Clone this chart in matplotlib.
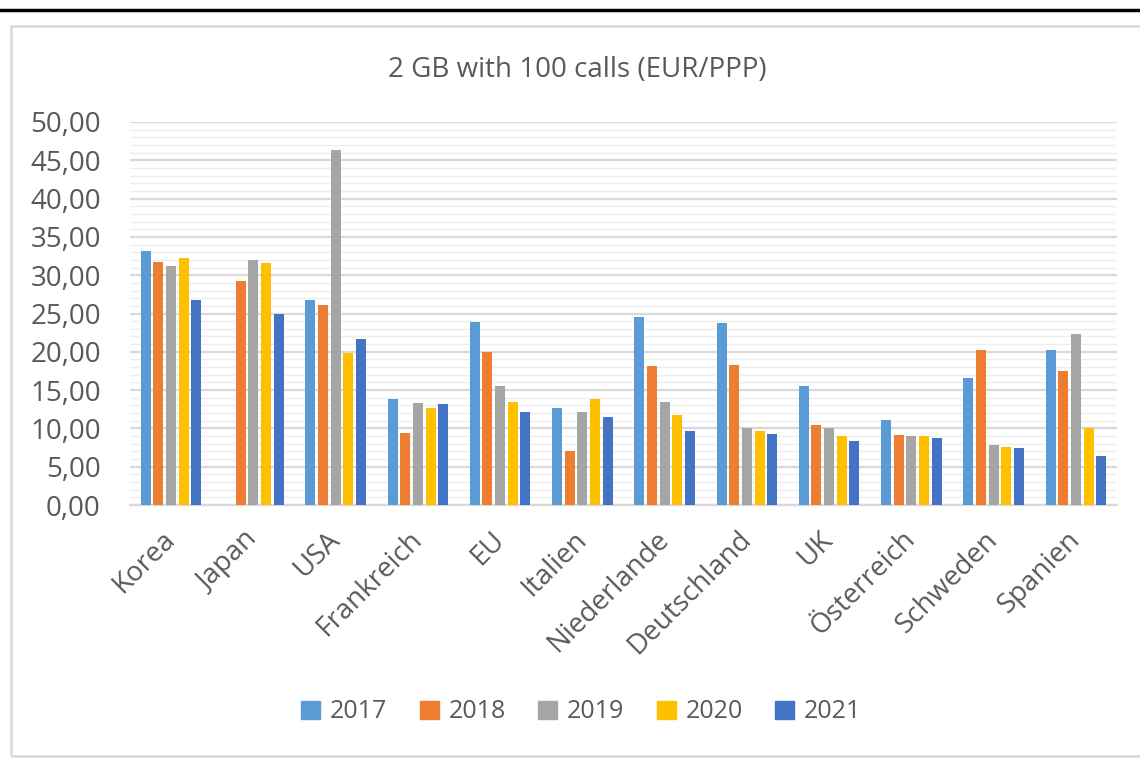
import matplotlib
matplotlib.use("Agg")
import matplotlib.pyplot as plt
import numpy as np
from matplotlib.ticker import MultipleLocator, FuncFormatter
from matplotlib.patches import Rectangle
from matplotlib.lines import Line2D

plt.rcParams['font.family'] = ['Open Sans', 'DejaVu Sans']

countries = ["Korea", "Japan", "USA", "Frankreich", "EU", "Italien", "Niederlande",
             "Deutschland", "UK", "Österreich", "Schweden", "Spanien"]
years = ["2017", "2018", "2019", "2020", "2021"]

v2017 = [33.2, 0.0, 26.7, 13.9, 23.9, 12.7, 24.6, 23.8, 15.5, 11.1, 16.6, 20.2]
v2018 = [31.7, 29.2, 26.1, 9.4, 20.0, 7.1, 18.1, 18.25, 10.5, 9.2, 20.2, 17.55]
v2019 = [31.2, 32.0, 46.4, 13.3, 15.6, 12.2, 13.5, 10.0, 10.1, 9.0, 7.8, 22.35]
v2020 = [32.2, 31.6, 19.8, 12.6, 13.4, 13.8, 11.7, 9.6, 9.0, 9.0, 7.6, 10.0]
v2021 = [26.7, 25.0, 21.7, 13.25, 12.1, 11.55, 9.7, 9.25, 8.4, 8.8, 7.5, 6.45]
series = [v2017, v2018, v2019, v2020, v2021]
colors = ["#5B9BD5", "#ED7D31", "#A5A5A5", "#FFC000", "#4472C4"]

title = "2 GB with 100 calls (EUR/PPP)"
text_color = "#595959"

W, H = 1140, 760
fig = plt.figure(figsize=(W / 100, H / 100), dpi=100)

# top black rule and chart border
fig.add_artist(Line2D([0, 1], [1 - 10 / H, 1 - 10 / H], color="black", lw=2.5,
                      transform=fig.transFigure))
fig.add_artist(Rectangle((11 / W, 1 - 756 / H), 1.2, (756 - 26) / H,
                         transform=fig.transFigure, fill=False,
                         edgecolor="#D9D9D9", lw=1.8))

left, right, top, bottom = 130, 1117, 122, 505
ax = fig.add_axes([left / W, 1 - bottom / H, (right - left) / W, (bottom - top) / H])

x = np.arange(len(countries))
pitch = 0.154
width = 0.122
for j, (vals, c, yr) in enumerate(zip(series, colors, years)):
    ax.bar(x + (j - 2) * pitch, vals, width=width, color=c, label=yr, zorder=3)

ax.set_xlim(-0.5, len(countries) - 0.5)
ax.set_ylim(0, 50)
ax.yaxis.set_major_locator(MultipleLocator(5))
ax.yaxis.set_minor_locator(MultipleLocator(1))
ax.yaxis.set_major_formatter(FuncFormatter(lambda v, p: f"{v:.2f}".replace(".", ",")))
ax.grid(axis="y", which="major", color="#D9D9D9", lw=1.6, zorder=0)
ax.grid(axis="y", which="minor", color="#EEEEEE", lw=1.0, zorder=0)
for s in ["top", "right", "left"]:
    ax.spines[s].set_visible(False)
ax.spines["bottom"].set_color("#D9D9D9")
ax.spines["bottom"].set_linewidth(1.6)
ax.tick_params(axis="y", which="both", length=0, labelsize=20, labelcolor=text_color, pad=21)
ax.tick_params(axis="x", length=0, labelsize=20, labelcolor=text_color, pad=22)
ax.set_xticks(x)
ax.set_xticklabels(countries, rotation=45, ha="right", va="center", rotation_mode="anchor")

fig.text(0.506, 1 - 70 / H, title, ha="center", va="center", fontsize=20, color=text_color)

handles = [Rectangle((0, 0), 1, 1, color=c) for c in colors]
leg = fig.legend(handles, years, loc="center", bbox_to_anchor=(0.51, 1 - 712 / H),
                 ncol=5, frameon=False, fontsize=18, handlelength=0.75, handleheight=0.75,
                 handletextpad=0.4, columnspacing=1.3)
for t in leg.get_texts():
    t.set_color(text_color)

fig.savefig("out.png", dpi=100)
